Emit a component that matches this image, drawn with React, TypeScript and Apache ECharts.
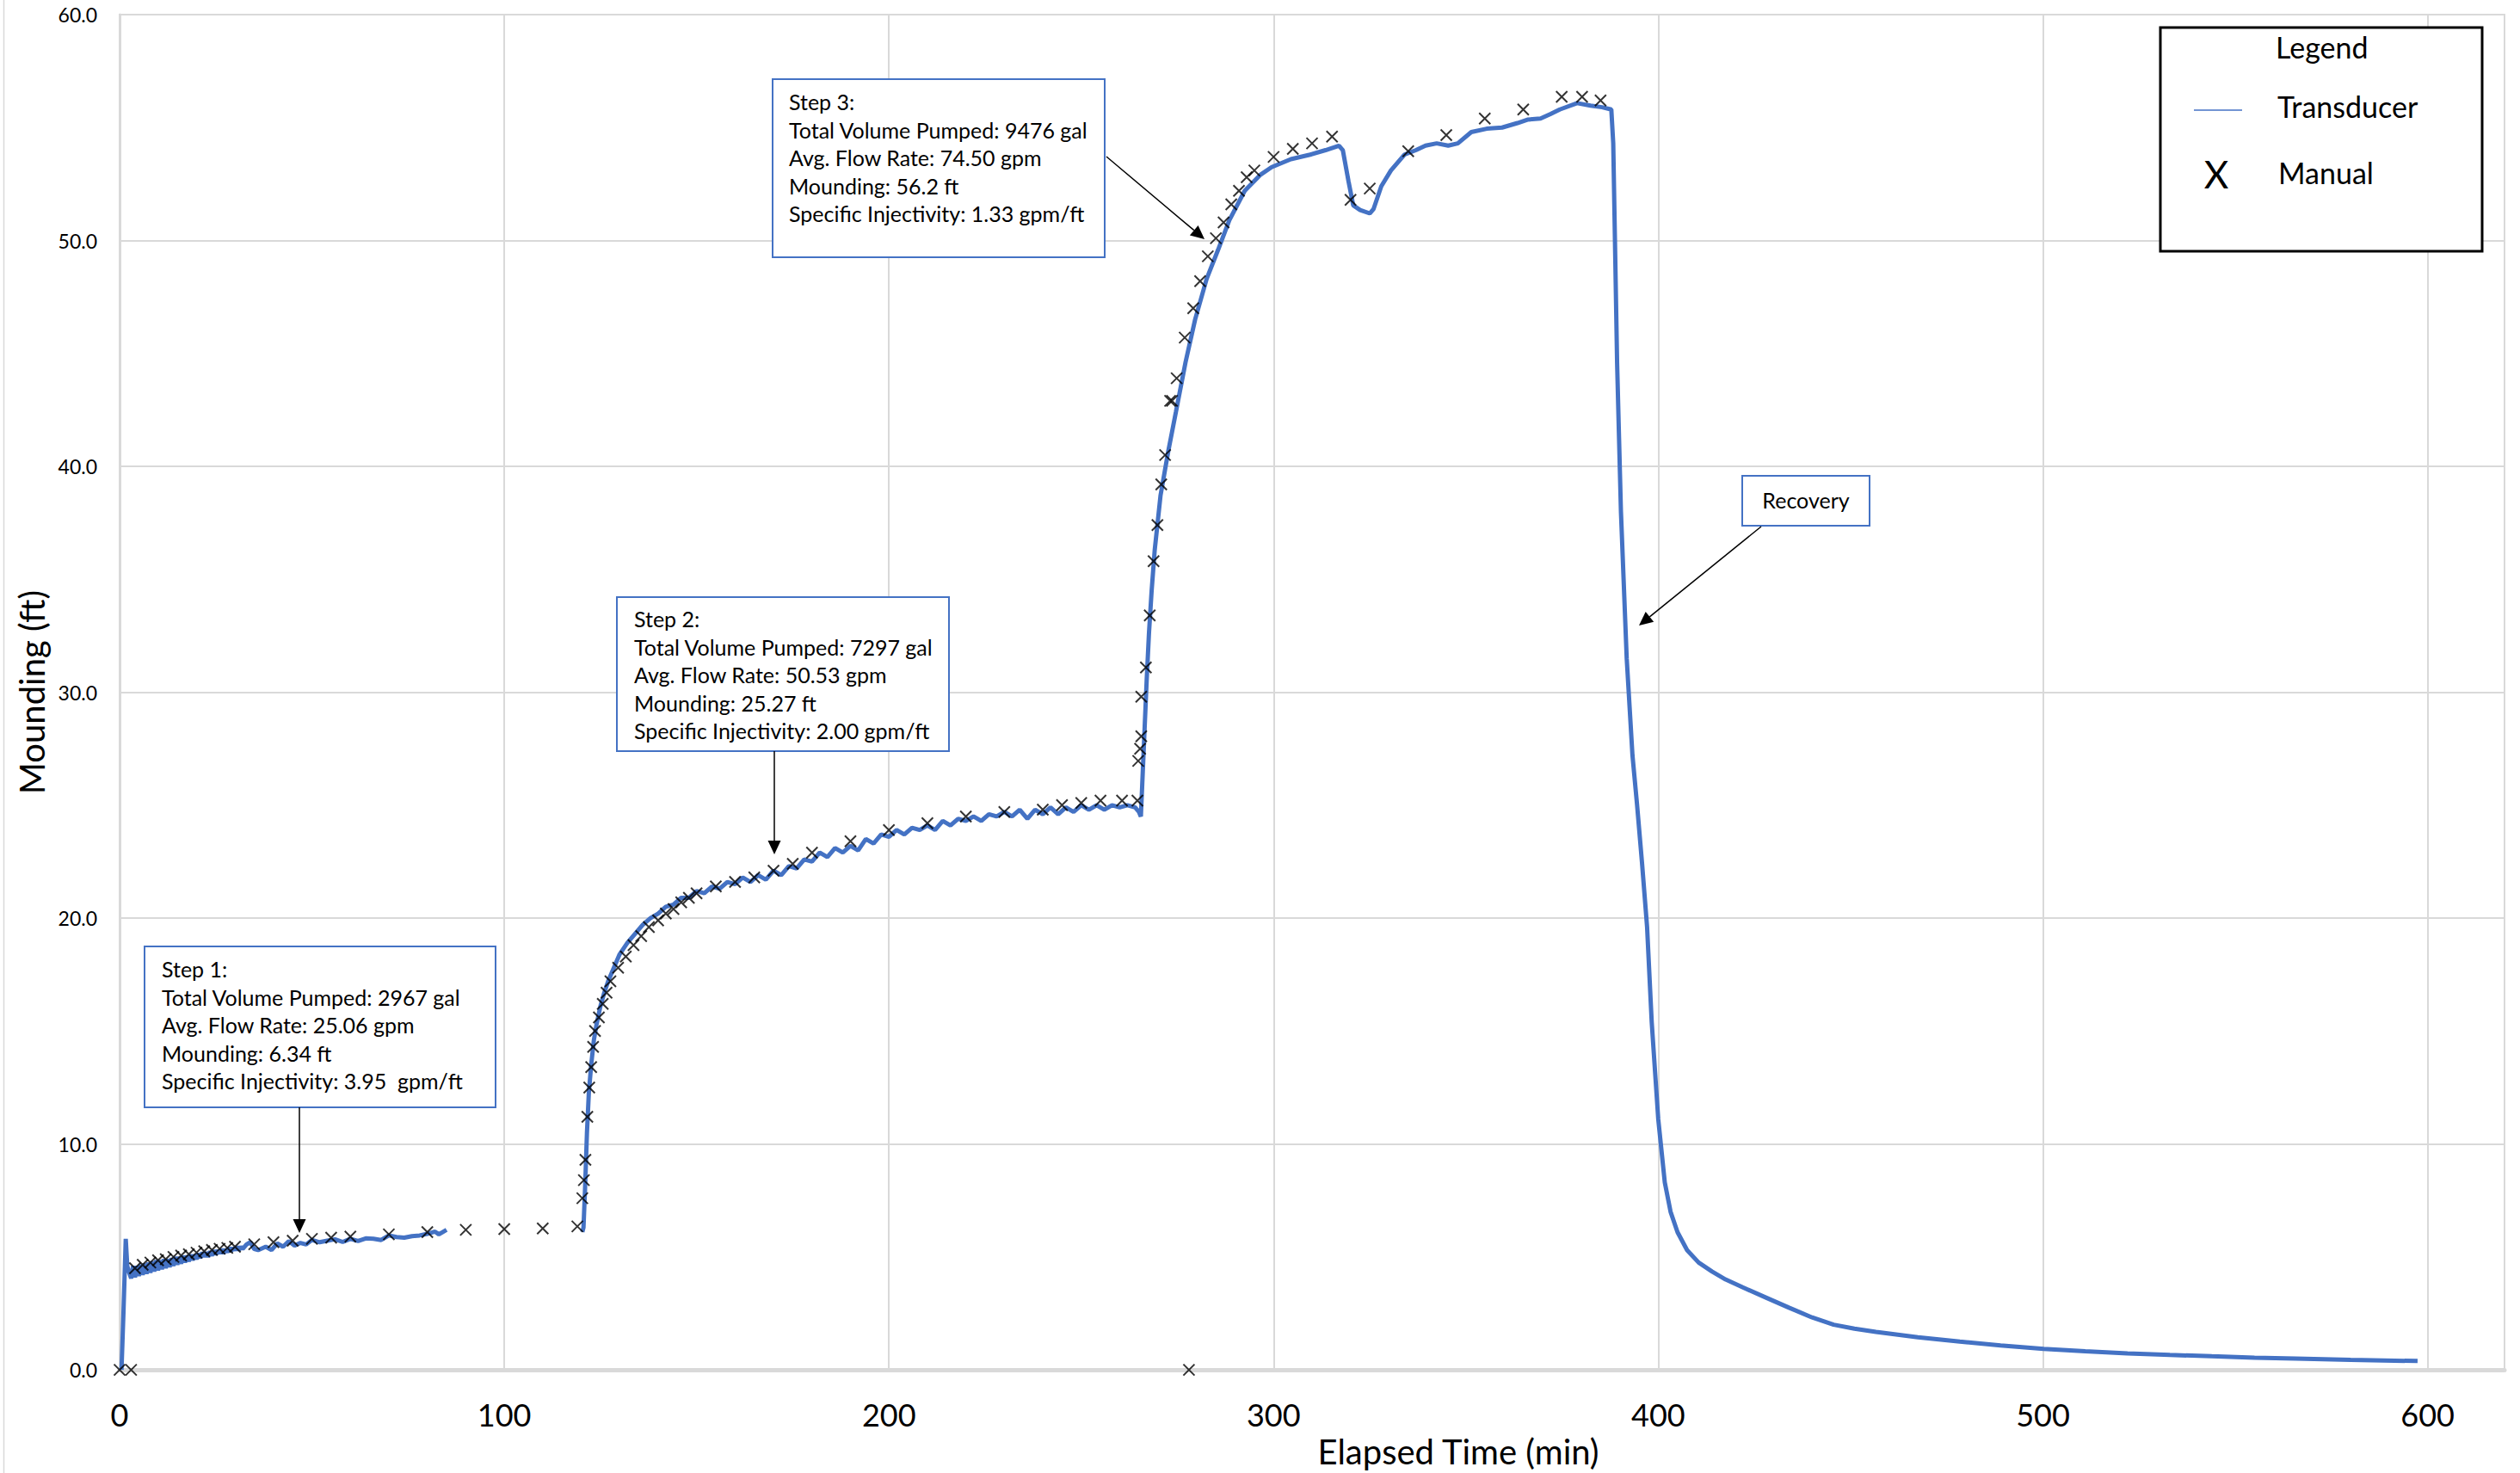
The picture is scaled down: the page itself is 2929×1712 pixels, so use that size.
import React, { useEffect, useRef } from "react";
import * as echarts from "echarts";

// ---------------- DATA ----------------
const xTickStep = 100;
const yTickStep = 10;

// Transducer, step 1 segment (time min, mounding ft)
const transducerStep1: [number, number][] = [
  [0.5, 0], [1.0, 2.5], [1.6, 5.8], [2.0, 4.6], [2.5, 4.3],
  [3, 4.05], [3.5, 4.6], [4, 4.1], [4.5, 4.6], [5, 4.15], [5.5, 4.65], [6, 4.2], [6.5, 4.7],
  [7, 4.25], [7.5, 4.75], [8, 4.3], [8.5, 4.8], [9, 4.35], [9.5, 4.85], [10, 4.4], [10.5, 4.85],
  [11, 4.45], [11.5, 4.9], [12, 4.5], [12.5, 4.9], [13, 4.55], [13.5, 4.95], [14, 4.6], [14.5, 5.0],
  [15, 4.65], [15.5, 5.0], [16, 4.7], [16.5, 5.05], [17, 4.75], [17.5, 5.05], [18, 4.8], [18.5, 5.1],
  [19, 4.85], [19.5, 5.1], [20, 4.9], [20.5, 5.15], [21, 4.95], [21.5, 5.2], [22, 5.0], [22.5, 5.2],
  [23, 5.0], [23.5, 5.25], [24, 5.05], [24.5, 5.3], [25, 5.1], [25.5, 5.3], [26, 5.15], [26.5, 5.35],
  [27, 5.15], [27.5, 5.35], [28, 5.2], [28.5, 5.4], [29, 5.25], [29.5, 5.4], [30, 5.3], [30.5, 5.45],
  [31, 5.3], [31.5, 5.45], [32, 5.35], [33, 5.55], [34, 5.65], [35, 5.35], [36, 5.3], [38, 5.45],
  [39.5, 5.3], [41, 5.6], [42.5, 5.45], [44, 5.7], [45.5, 5.5], [47, 5.62], [48.5, 5.55], [50, 5.75],
  [52, 5.65], [54, 5.72], [56, 5.78], [58, 5.66], [60, 5.8], [62, 5.7], [64, 5.82], [66, 5.8],
  [68, 5.75], [70, 5.95], [72, 5.88], [74, 5.85], [76, 5.92], [78, 5.95], [80, 6.02], [82, 6.12],
  [83, 6.0], [85, 6.2],
];

// Transducer, step 2
const transducerStep2: [number, number][] = [
  [120.3, 6.1], [120.6, 6.3], [121, 8.0], [121.5, 10.5], [122, 12.3], [122.6, 13.5], [123.3, 14.6],
  [124, 15.3], [125, 16.1], [126, 16.7], [127, 17.2], [128, 17.6], [129, 18.0], [130, 18.4],
  [132, 18.9], [134, 19.3], [136, 19.7], [138, 20.0], [140, 20.2], [142, 20.5], [144, 20.6],
  [146, 20.9], [148, 20.9], [150, 21.2], [152, 21.1], [154, 21.4], [156, 21.3], [158, 21.6],
  [160, 21.5], [162, 21.8], [164, 21.6], [166, 21.9], [168, 21.7], [170, 22.1], [172, 21.9],
  [174, 22.3], [176, 22.2], [178, 22.6], [180, 22.5], [182, 22.9], [184, 22.7], [186, 23.1],
  [188, 22.9], [190, 23.2], [192, 23.0], [194, 23.5], [196, 23.3], [198, 23.7], [200, 23.6],
  [202, 23.9], [204, 23.7], [206, 24.0], [208, 23.9], [210, 24.1], [212, 23.9], [214, 24.3],
  [216, 24.1], [218, 24.4], [220, 24.3], [222, 24.5], [224, 24.3], [226, 24.6], [228, 24.5],
  [230, 24.7], [232, 24.5], [234, 24.8], [236, 24.4], [238, 24.8], [240, 24.6], [242, 24.9],
  [244, 24.6], [246, 24.9], [248, 24.7], [250, 25.0], [252, 24.8], [254, 25.0], [256, 24.8],
  [258, 25.0], [260, 24.9], [262, 25.0], [264, 24.9], [265, 24.7], [265.5, 24.5],
];

// Transducer, step 3
const transducerStep3: [number, number][] = [
  [266, 26.5], [266.5, 28.5], [267, 30.5], [267.6, 32.6], [268.3, 34.5], [269.1, 36.3],
  [270.6, 38.7], [272.6, 40.65], [274.6, 42.4], [277.1, 44.6], [279.6, 46.5], [282.6, 48.3],
  [285.6, 49.6], [288.5, 50.9], [292.5, 52.2], [296.5, 52.9], [299.5, 53.25], [304.5, 53.6],
  [309.5, 53.8], [313.5, 54.0], [317, 54.2], [318, 54.0], [319.5, 52.6], [320.7, 51.56],
  [322.5, 51.35], [325, 51.2], [326, 51.4], [328, 52.4], [330.5, 53.1], [334, 53.8], [337, 54.0],
  [339.5, 54.2], [342.4, 54.3], [345.4, 54.2], [347.9, 54.3], [351.4, 54.8], [355.4, 54.95],
  [359.4, 55.0], [363.4, 55.2], [366, 55.35], [369.4, 55.4], [372, 55.6], [374.4, 55.8],
  [378.9, 56.08], [382.4, 55.97], [385.4, 55.9], [387.8, 55.8],
];

// Transducer, recovery
const transducerRecovery: [number, number][] = [
  [388.3, 54.3], [389.3, 44.6], [390.3, 38.0], [391.8, 31.5], [393.3, 27.2], [394.5, 25.0],
  [395.8, 22.4], [397.1, 19.6], [398.3, 15.4], [400.0, 11.1], [401.7, 8.3], [403.2, 7.0],
  [405, 6.1], [407.5, 5.3], [410.5, 4.75], [414, 4.35], [417.5, 4.0], [422, 3.65], [428, 3.2],
  [434, 2.75], [440, 2.32], [445.6, 2.0], [451, 1.82], [456.6, 1.68], [467.5, 1.44],
  [478.4, 1.25], [489, 1.08], [500.2, 0.93], [511, 0.82], [522, 0.73], [533, 0.66], [543.9, 0.6],
  [555, 0.54], [565.7, 0.5], [580, 0.44], [597.4, 0.39],
];

// Manual readings
const manualStep1: [number, number][] = [
  [0, 0], [3, 0], [4, 4.5], [6, 4.65], [8, 4.75], [10, 4.85], [12, 4.9], [14, 5.0], [16, 5.06],
  [18, 5.12], [20, 5.19], [22, 5.25], [24, 5.31], [26, 5.36], [28, 5.4], [30, 5.45], [35, 5.56],
  [40, 5.65], [45, 5.72], [50, 5.8], [55, 5.85], [60, 5.9], [70, 6.0], [80, 6.1], [90, 6.2],
  [100, 6.23], [110, 6.26], [119, 6.35],
];
const manualStep2: [number, number][] = [
  [120.3, 7.6], [120.7, 8.4], [121.1, 9.3], [121.6, 11.2], [122.1, 12.5], [122.6, 13.4], [123.1, 14.3],
  [123.6, 15.0], [124.6, 15.6], [125.6, 16.2], [126.6, 16.7], [127.6, 17.2], [129.6, 17.8], [131.6, 18.3],
  [133.6, 18.8], [135.6, 19.2], [137.6, 19.6], [140, 19.9], [142, 20.2], [144, 20.4], [146, 20.7],
  [148, 20.9], [150, 21.1], [155, 21.4], [160, 21.6], [165, 21.8], [170, 22.1], [175, 22.4],
  [180, 22.9], [190, 23.4], [200, 23.9], [210, 24.2], [220, 24.5], [230, 24.7], [240, 24.8],
  [245, 25.0], [250, 25.1], [255, 25.2], [260.6, 25.2],
];
const manualStep3: [number, number][] = [
  [264.6, 25.2], [264.8, 26.96], [265.3, 27.5], [265.6, 28.05], [265.6, 29.8], [266.8, 31.1],
  [267.8, 33.4], [268.8, 35.8], [269.8, 37.4], [270.8, 39.2], [271.8, 40.5], [273.1, 42.9],
  [273.6, 42.9], [274.8, 43.9], [276.9, 45.7], [279.1, 47.0], [280.9, 48.2], [282.9, 49.3],
  [285.0, 50.1], [287.0, 50.8], [289.0, 51.6], [291.0, 52.2], [293.0, 52.8], [295.0, 53.1],
  [300.0, 53.7], [305.0, 54.06], [310.0, 54.3], [315.2, 54.6], [320.0, 51.8], [325.0, 52.3],
  [335.0, 53.95], [344.9, 54.67], [354.9, 55.4], [364.9, 55.8], [374.9, 56.36], [380.2, 56.36],
  [385.0, 56.2],
];
const manualOutlier: [number, number][] = [[278, 0]];

// Annotation texts
const step1Lines = [
  "Step 1:",
  "Total Volume Pumped: 2967 gal",
  "Avg. Flow Rate: 25.06 gpm",
  "Mounding: 6.34 ft",
  "Specific Injectivity: 3.95  gpm/ft",
];
const step2Lines = [
  "Step 2:",
  "Total Volume Pumped: 7297 gal",
  "Avg. Flow Rate: 50.53 gpm",
  "Mounding: 25.27 ft",
  "Specific Injectivity: 2.00 gpm/ft",
];
const step3Lines = [
  "Step 3:",
  "Total Volume Pumped: 9476 gal",
  "Avg. Flow Rate: 74.50 gpm",
  "Mounding: 56.2 ft",
  "Specific Injectivity: 1.33 gpm/ft",
];
const recoveryLabel = "Recovery";
const legendTitle = "Legend";
const seriesNames = ["Transducer", "Manual"];

// ---------------- STYLE ----------------
const FONT = "Lato, 'Open Sans', sans-serif";
const BLUE = "#4472C4";
const GRID_GRAY = "#d9d9d9";

function annotationBox(x: number, y: number, w: number, h: number, lines: string[], tx: number, ty: number) {
  return [
    {
      type: "rect",
      z: 100,
      shape: { x, y, width: w, height: h },
      style: { fill: "#fff", stroke: BLUE, lineWidth: 2 },
    },
    {
      type: "text",
      z: 101,
      x: tx,
      y: ty,
      style: {
        text: lines.join("\n"),
        font: `25px ${FONT}`,
        fill: "#000",
        lineHeight: 32.5,
        align: "left",
        verticalAlign: "top",
      },
    },
  ];
}

function arrow(x1: number, y1: number, x2: number, y2: number) {
  const dx = x2 - x1;
  const dy = y2 - y1;
  const len = Math.sqrt(dx * dx + dy * dy);
  const ux = dx / len;
  const uy = dy / len;
  const hl = 16;
  const hw = 7.5;
  const bx = x2 - ux * hl;
  const by = y2 - uy * hl;
  const px = -uy * hw;
  const py = ux * hw;
  return [
    {
      type: "line",
      z: 100,
      shape: { x1, y1, x2: bx, y2: by },
      style: { stroke: "#000", lineWidth: 1.5 },
    },
    {
      type: "polygon",
      z: 100,
      shape: { points: [[x2, y2], [bx + px, by + py], [bx - px, by - py]] },
      style: { fill: "#000" },
    },
  ];
}

export default function App() {
  const ref = useRef<HTMLDivElement>(null);

  useEffect(() => {
    if (!ref.current) return;
    const chart = echarts.init(ref.current, null, { renderer: "svg", width: 2929, height: 1712 });

    const lineStyle = { color: BLUE, width: 5 };
    const xSymbol = "path://M0,0L12,12M12,0L0,12";

    const option: any = {
      animation: false,
      backgroundColor: "#fff",
      textStyle: { fontFamily: FONT },
      grid: {
        left: 139,
        top: 17,
        width: 2772,
        height: 1585,
        show: true,
        borderColor: GRID_GRAY,
        borderWidth: 2,
      },
      xAxis: {
        type: "value",
        min: 0,
        max: 620,
        interval: xTickStep,
        name: "Elapsed Time (min)",
        nameLocation: "middle",
        nameGap: 64,
        nameTextStyle: { fontSize: 40, color: "#000", fontFamily: FONT, padding: [0, 0, 0, 340] },
        axisLine: { show: true, lineStyle: { color: GRID_GRAY, width: 5 } },
        axisTick: { show: false },
        axisLabel: {
          fontSize: 36,
          color: "#000",
          margin: 34,
          showMaxLabel: false,
          fontFamily: FONT,
        },
        splitLine: { show: true, lineStyle: { color: GRID_GRAY, width: 2 } },
      },
      yAxis: {
        type: "value",
        min: 0,
        max: 60,
        interval: yTickStep,
        name: "Mounding (ft)",
        nameLocation: "middle",
        nameGap: 80,
        nameTextStyle: { fontSize: 40, color: "#000", fontFamily: FONT },
        axisLine: { show: true, lineStyle: { color: GRID_GRAY, width: 3 } },
        axisTick: { show: false },
        axisLabel: {
          fontSize: 23,
          color: "#000",
          margin: 26,
          fontFamily: FONT,
          formatter: (v: number) => v.toFixed(1),
        },
        splitLine: { show: true, lineStyle: { color: GRID_GRAY, width: 2 } },
      },
      series: [
        {
          name: seriesNames[0],
          type: "line",
          data: transducerStep1,
          showSymbol: false,
          symbol: "none",
          lineStyle,
          z: 3,
        },
        {
          name: seriesNames[0],
          type: "line",
          data: [...transducerStep2, ...transducerStep3, ...transducerRecovery],
          showSymbol: false,
          symbol: "none",
          lineStyle,
          z: 3,
        },
        {
          name: seriesNames[1],
          type: "scatter",
          data: [...manualStep1, ...manualStep2, ...manualStep3, ...manualOutlier],
          symbol: xSymbol,
          symbolSize: 13,
          itemStyle: { color: "transparent", borderColor: "#000", borderWidth: 2 },
          z: 4,
        },
      ],
      graphic: [
        {
          type: "line",
          shape: { x1: 4.5, y1: 0, x2: 4.5, y2: 1712 },
          style: { stroke: GRID_GRAY, lineWidth: 1.5 },
        },
        ...annotationBox(168, 1100, 408, 187, step1Lines, 188, 1110),
        ...arrow(348, 1287, 348, 1433),
        ...annotationBox(717, 694, 386, 179, step2Lines, 737, 703),
        ...arrow(900, 873, 900, 993),
        ...annotationBox(898, 92, 386, 207, step3Lines, 917, 102),
        ...arrow(1286, 182, 1400, 278),
        {
          type: "rect",
          z: 100,
          shape: { x: 2025, y: 553, width: 148, height: 58 },
          style: { fill: "#fff", stroke: BLUE, lineWidth: 2 },
        },
        {
          type: "text",
          z: 101,
          x: 2099,
          y: 581,
          style: {
            text: recoveryLabel,
            font: `25px ${FONT}`,
            fill: "#000",
            align: "center",
            verticalAlign: "middle",
          },
        },
        ...arrow(2047, 612, 1905, 727),
        {
          type: "rect",
          z: 100,
          shape: { x: 2511, y: 32, width: 374, height: 260 },
          style: { fill: "#fff", stroke: "#000", lineWidth: 3 },
        },
        {
          type: "text",
          z: 101,
          x: 2645,
          y: 54,
          style: { text: legendTitle, font: `34px ${FONT}`, fill: "#000", align: "left", verticalAlign: "middle" },
        },
        {
          type: "line",
          z: 101,
          shape: { x1: 2550, y1: 128, x2: 2606, y2: 128 },
          style: { stroke: BLUE, lineWidth: 1.5 },
        },
        {
          type: "text",
          z: 101,
          x: 2647,
          y: 123,
          style: { text: seriesNames[0], font: `34px ${FONT}`, fill: "#000", align: "left", verticalAlign: "middle" },
        },
        {
          type: "text",
          z: 101,
          x: 2576,
          y: 202,
          style: { text: "X", font: `44px ${FONT}`, fill: "#000", align: "center", verticalAlign: "middle" },
        },
        {
          type: "text",
          z: 101,
          x: 2648,
          y: 200,
          style: { text: seriesNames[1], font: `34px ${FONT}`, fill: "#000", align: "left", verticalAlign: "middle" },
        },
      ],
    };

    chart.setOption(option);
    return () => chart.dispose();
  }, []);

  return (
    <div
      ref={ref}
      style={{ position: "fixed", left: 0, top: 0, width: 2929, height: 1712, background: "#fff" }}
    />
  );
}
